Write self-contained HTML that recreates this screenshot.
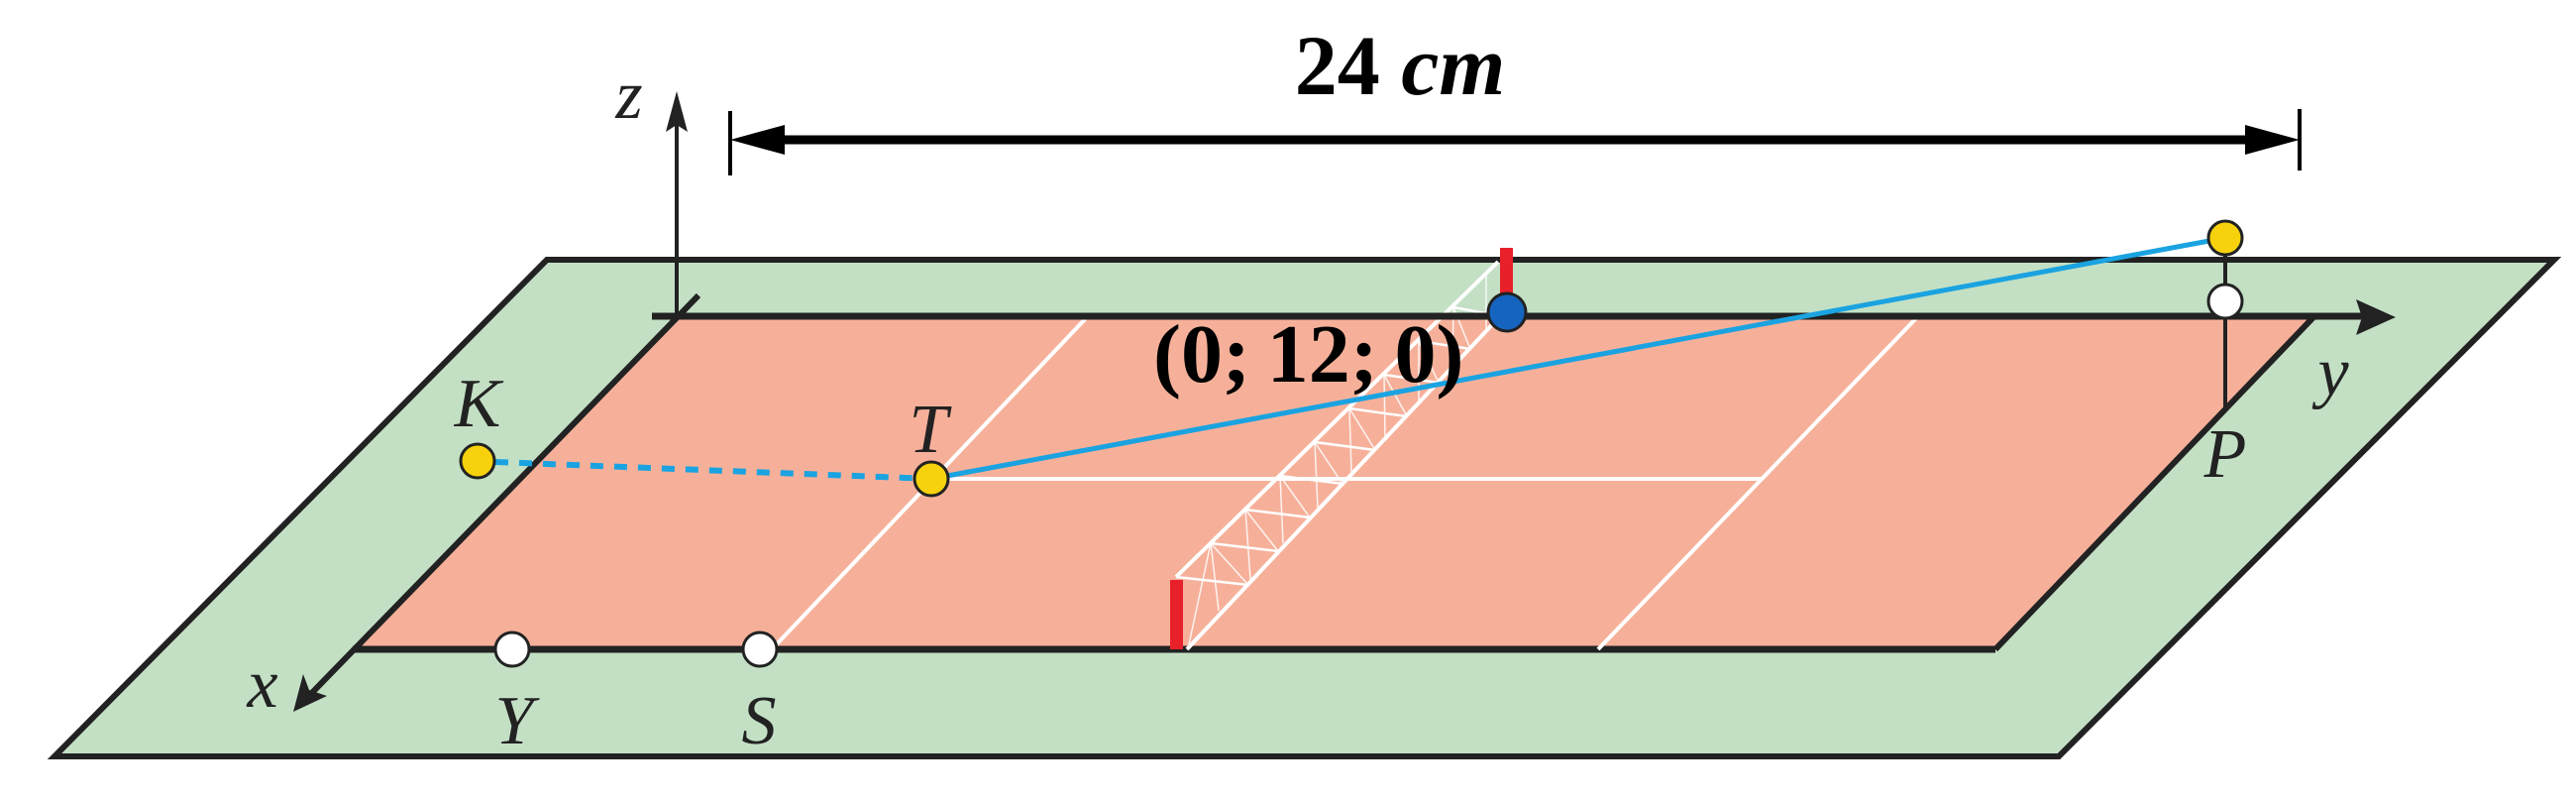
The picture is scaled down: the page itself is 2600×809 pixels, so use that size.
<!DOCTYPE html>
<html><head><meta charset="utf-8"><style>html,body{margin:0;padding:0;background:#fff}svg{display:block}</style></head>
<body>
<svg width="2600" height="809" viewBox="0 0 2600 809" xmlns="http://www.w3.org/2000/svg">
<!-- green surround -->
<polygon points="552,262 2578,262 2078,763 55,763" fill="#c3e0c5" stroke="#222" stroke-width="6"/>
<!-- court -->
<polygon points="680,320 2335,320 2014,655 356,655" fill="#f6b09a"/>
<line x1="2335" y1="320" x2="2014" y2="655" stroke="#222" stroke-width="6"/>
<line x1="356" y1="655" x2="2014" y2="655" stroke="#222" stroke-width="7"/>
<!-- court lines -->
<g stroke="#fff" stroke-width="4">
<line x1="1097" y1="320" x2="779" y2="655"/>
<line x1="1935" y1="320" x2="1613" y2="655"/>
<line x1="940" y1="483" x2="1779" y2="483"/>
</g>
<!-- net -->
<g stroke="#fff" fill="none">
<line x1="1187" y1="582" x2="1512" y2="264" stroke-width="4"/>
<line x1="1198" y1="655" x2="1515" y2="318" stroke-width="4"/>
<path d="M1187,582 L1260,590 M1222,548 L1290,556 M1257,514 L1322,522 M1292,480 L1355,488 M1327,446 L1388,454 M1362,412 L1420,420 M1397,378 L1452,386 M1432,344 L1484,352 M1467,310 L1510,318" stroke-width="2.5"/>
<path d="M1187,582 L1222,548 L1200,650 M1222,548 L1260,590 M1222,548 L1230,616 M1257,514 L1262,584 M1257,514 L1290,556 M1292,480 L1295,548 M1292,480 L1322,522 M1327,446 L1330,512 M1327,446 L1355,488 M1362,412 L1364,476 M1362,412 L1388,454 M1397,378 L1398,440 M1397,378 L1420,420 M1432,344 L1432,404 M1432,344 L1452,386 M1467,310 L1466,368 M1467,310 L1484,352 M1500,276 L1500,332" stroke-width="1.5" opacity="0.85"/>
</g>
<rect x="1181" y="585" width="13" height="70" fill="#e8202a"/>
<rect x="1514" y="250" width="13" height="62" fill="#e8202a"/>
<!-- axes -->
<line x1="658" y1="319" x2="2390" y2="319" stroke="#222" stroke-width="7"/>
<polygon points="2418,320 2378,302 2384,320 2378,338" fill="#222"/>
<line x1="683" y1="320" x2="683" y2="100" stroke="#222" stroke-width="4"/>
<polygon points="683,92 672,133 683,126 694,133" fill="#222"/>
<line x1="705" y1="298" x2="305" y2="709" stroke="#222" stroke-width="6"/>
<polygon points="296,718 306,680 312,696 330,702" fill="#222"/>
<!-- dimension -->
<line x1="760" y1="141" x2="2300" y2="141" stroke="#000" stroke-width="9"/>
<polygon points="737,141 792,126 792,156" fill="#000"/>
<polygon points="2321,141 2266,126 2266,156" fill="#000"/>
<line x1="737" y1="112" x2="737" y2="177" stroke="#000" stroke-width="4"/>
<line x1="2321" y1="110" x2="2321" y2="172" stroke="#000" stroke-width="4"/>
<!-- blue lines -->
<line x1="500" y1="466" x2="940" y2="483" stroke="#1aa3e0" stroke-width="6" stroke-dasharray="13,11"/>
<line x1="940" y1="483" x2="2246" y2="240" stroke="#1aa3e0" stroke-width="5"/>
<!-- P vertical -->
<line x1="2246" y1="240" x2="2246" y2="413" stroke="#222" stroke-width="4"/>
<!-- dots -->
<g stroke="#222" stroke-width="3">
<circle cx="482" cy="465" r="17" fill="#f7d20c"/>
<circle cx="940" cy="483" r="17" fill="#f7d20c"/>
<circle cx="2246" cy="240" r="17" fill="#f7d20c"/>
<circle cx="2246" cy="304" r="17" fill="#fff"/>
<circle cx="517" cy="655" r="17" fill="#fff"/>
<circle cx="767" cy="655" r="17" fill="#fff"/>
<circle cx="1521" cy="315" r="19" fill="#1565c0"/>
</g>
<!-- labels -->
<g font-family="Liberation Serif, serif" font-style="italic" fill="#222" font-size="70" text-anchor="middle">
<text x="635" y="119">z</text>
<text x="2355" y="398">y</text>
<text x="265" y="713">x</text>
<text x="482" y="430">K</text>
<text x="937" y="456">T</text>
<text x="2246" y="481">P</text>
<text x="519" y="750">Y</text>
<text x="766" y="750">S</text>
</g>
<text x="1413" y="95" text-anchor="middle" font-family="Liberation Serif, serif" font-size="86" font-weight="bold" fill="#000">24 <tspan font-style="italic">cm</tspan></text>
<text x="1164" y="385" font-family="Liberation Serif, serif" font-size="84" font-weight="bold" fill="#000">(0;&#8201;12;&#8201;0)</text>
</svg>
</body></html>
